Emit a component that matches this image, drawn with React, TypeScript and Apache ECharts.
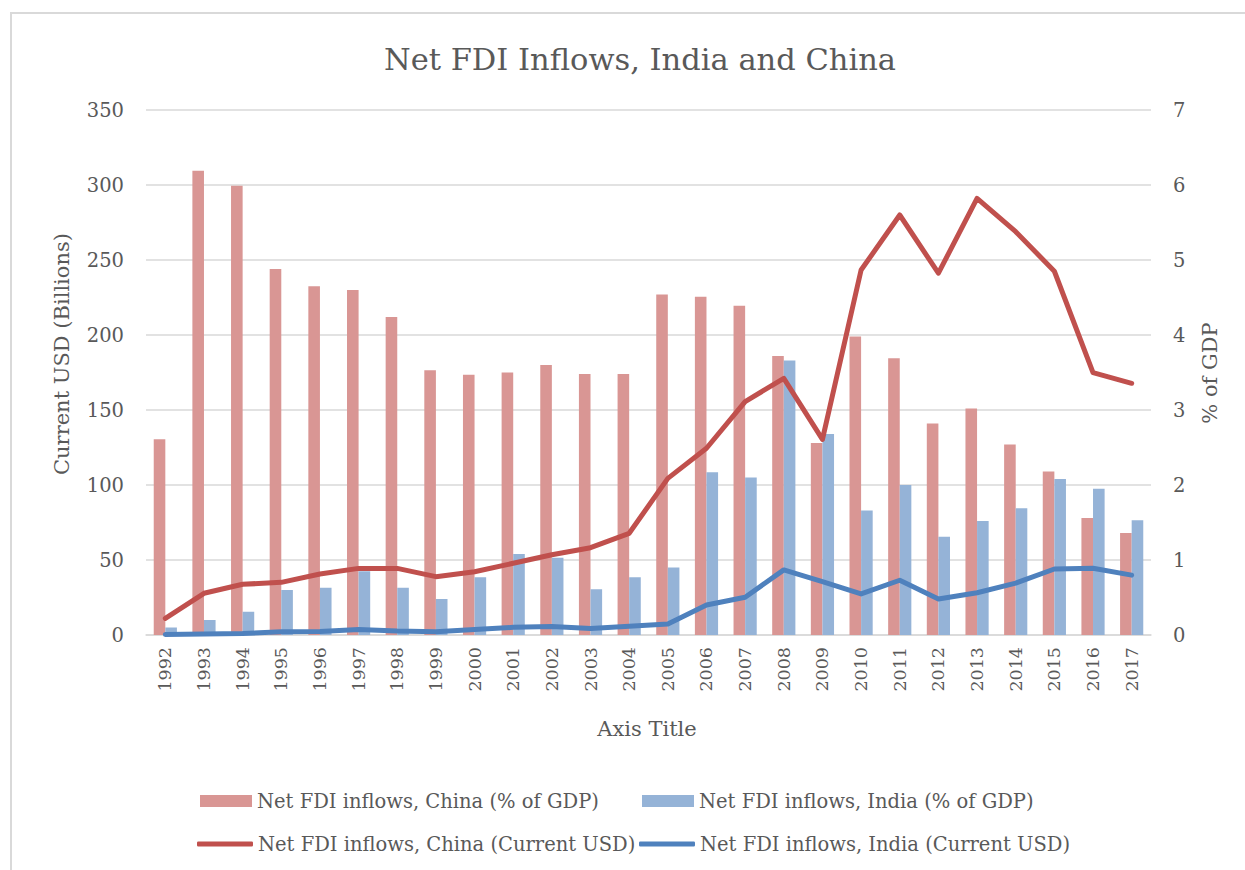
import React, { useEffect, useRef } from "react";
import * as echarts from "echarts";

const years = ["1992","1993","1994","1995","1996","1997","1998","1999","2000","2001","2002","2003","2004","2005","2006","2007","2008","2009","2010","2011","2012","2013","2014","2015","2016","2017"];
const chinaPctGdp = [2.61, 6.19, 5.99, 4.88, 4.65, 4.60, 4.24, 3.53, 3.47, 3.50, 3.60, 3.48, 3.48, 4.54, 4.51, 4.39, 3.72, 2.56, 3.98, 3.69, 2.82, 3.02, 2.54, 2.18, 1.56, 1.36];
const indiaPctGdp = [0.10, 0.20, 0.31, 0.60, 0.63, 0.85, 0.63, 0.48, 0.77, 1.08, 1.03, 0.61, 0.77, 0.90, 2.17, 2.10, 3.66, 2.68, 1.66, 2.00, 1.31, 1.52, 1.69, 2.08, 1.95, 1.53];
const chinaUsd = [11.1, 27.8, 33.8, 35.1, 40.7, 44.4, 44.4, 38.9, 42.2, 47.8, 53.5, 58.2, 67.8, 104.4, 124.5, 155.6, 171.1, 130.4, 243.3, 280.0, 241.2, 291.1, 268.9, 242.5, 174.9, 167.8];
const indiaUsd = [0.3, 0.6, 1.0, 2.1, 2.4, 3.6, 2.6, 2.2, 3.6, 5.1, 5.6, 4.3, 5.8, 7.3, 20.0, 25.2, 43.4, 35.6, 27.4, 36.5, 24.0, 28.2, 34.6, 44.0, 44.5, 39.9];

const seriesNames = [
  "Net FDI inflows, China (% of GDP)",
  "Net FDI inflows, India (% of GDP)",
  "Net FDI inflows, China (Current USD)",
  "Net FDI inflows, India (Current USD)",
];
const titleText = "Net FDI Inflows, India and China";
const leftAxisName = "Current USD (Billions)";
const rightAxisName = "% of GDP";
const xAxisName = "Axis Title";

const FONT = "DejaVu Serif";
const TXT = "#595959";
const GRID = "#D9D9D9";

export default function App() {
  const ref = useRef<HTMLDivElement>(null);
  useEffect(() => {
    if (!ref.current) return;
    const chart = echarts.init(ref.current, null, { renderer: "svg" });
    const legendText = { color: TXT, fontSize: 19.5, fontFamily: FONT };
    const mkLegend = (name: string, left: number, top: number, isLine: boolean) => ({
      show: true,
      data: [name],
      left,
      top,
      itemWidth: isLine ? 56 : 52,
      itemHeight: isLine ? 5 : 12,
      icon: isLine ? "roundRect" : "rect",
      padding: 0,
      textStyle: legendText,
      selectedMode: false,
    });
    chart.setOption({
      animation: false,
      backgroundColor: "#FFFFFF",
      textStyle: { fontFamily: FONT },
      title: {
        text: titleText,
        left: 635,
        top: 39,
        textAlign: "center",
        textStyle: { color: TXT, fontSize: 30.5, fontWeight: "normal", fontFamily: FONT },
      },
      grid: { left: 146, right: 94, top: 110, bottom: 235, containLabel: false },
      legend: [
        mkLegend(seriesNames[0], 200, 791, false),
        mkLegend(seriesNames[1], 642, 791, false),
        mkLegend(seriesNames[2], 197, 834, true),
        mkLegend(seriesNames[3], 639, 834, true),
      ],
      xAxis: {
        type: "category",
        data: years,
        axisLine: { show: true, lineStyle: { color: GRID, width: 1.5 } },
        axisTick: { show: false },
        axisLabel: { rotate: 90, fontSize: 17.5, color: TXT, margin: 12, fontFamily: FONT },
        splitLine: { show: false },
      },
      yAxis: [
        {
          type: "value",
          min: 0,
          max: 350,
          interval: 50,
          axisLine: { show: false },
          axisTick: { show: false },
          axisLabel: { fontSize: 19.5, color: TXT, margin: 22, fontFamily: FONT },
          splitLine: { show: true, lineStyle: { color: GRID, width: 1.5 } },
        },
        {
          type: "value",
          min: 0,
          max: 7,
          interval: 1,
          axisLine: { show: false },
          axisTick: { show: false },
          axisLabel: { fontSize: 19.5, color: TXT, margin: 22, fontFamily: FONT },
          splitLine: { show: false },
        },
      ],
      series: [
        {
          name: seriesNames[0],
          type: "bar",
          yAxisIndex: 1,
          data: chinaPctGdp,
          barGap: "0%",
          barCategoryGap: "40%",
          itemStyle: { color: "#D99694" },
        },
        {
          name: seriesNames[1],
          type: "bar",
          yAxisIndex: 1,
          data: indiaPctGdp,
          barGap: "0%",
          barCategoryGap: "40%",
          itemStyle: { color: "#95B3D7" },
        },
        {
          name: seriesNames[2],
          type: "line",
          yAxisIndex: 0,
          data: chinaUsd,
          symbol: "none",
          itemStyle: { color: "#C0504D" },
          lineStyle: { color: "#C0504D", width: 5, join: "round", cap: "round" },
          z: 5,
        },
        {
          name: seriesNames[3],
          type: "line",
          yAxisIndex: 0,
          data: indiaUsd,
          symbol: "none",
          itemStyle: { color: "#4F81BD" },
          lineStyle: { color: "#4F81BD", width: 5, join: "round", cap: "round" },
          z: 5,
        },
      ],
      graphic: [
        {
          type: "rect",
          shape: { x: 11, y: 13, width: 1400, height: 1000 },
          style: { fill: "none", stroke: GRID, lineWidth: 2 },
          silent: true,
        },
        {
          type: "text",
          x: 62,
          y: 354,
          rotation: Math.PI / 2,
          style: { text: leftAxisName, fill: TXT, fontSize: 21, fontFamily: FONT, textAlign: "center", textVerticalAlign: "middle" },
        },
        {
          type: "text",
          x: 1210,
          y: 373,
          rotation: Math.PI / 2,
          style: { text: rightAxisName, fill: TXT, fontSize: 21, fontFamily: FONT, textAlign: "center", textVerticalAlign: "middle" },
        },
        {
          type: "text",
          x: 647,
          y: 729,
          style: { text: xAxisName, fill: TXT, fontSize: 21, fontFamily: FONT, textAlign: "center", textVerticalAlign: "middle" },
        },
      ],
    });
    return () => chart.dispose();
  }, []);
  return (
    <div
      ref={ref}
      style={{ position: "fixed", left: 0, top: 0, width: 1245, height: 870, background: "#fff" }}
    />
  );
}
